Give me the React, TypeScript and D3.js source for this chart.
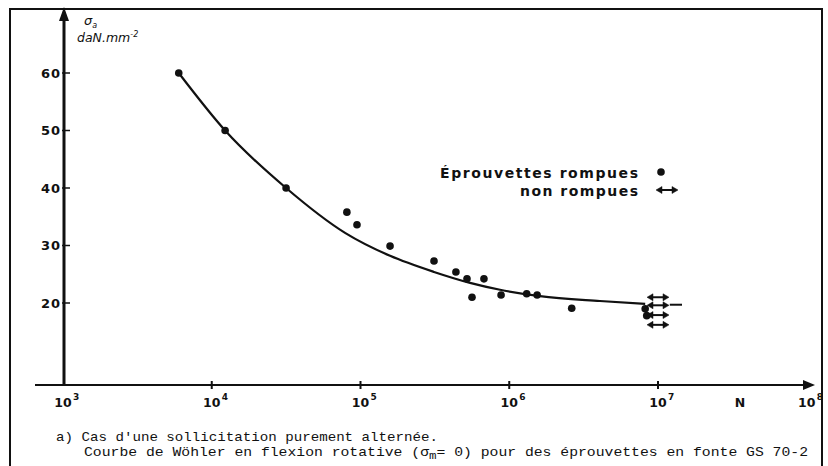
import React from 'react';
import * as d3 from 'd3';

// fitted Wöhler curve (N cycles, stress daN/mm2)
const curveN = [6000, 12300, 31600, 78700, 158000, 312000, 545000, 867000, 1610000, 4070000, 8200000];
const curveS = [60, 50, 40, 32.2, 28.2, 25.4, 23.5, 22.3, 21.2, 20.35, 19.85];

// broken specimens
const rompuesN = [6000, 12300, 31600, 81000, 94700, 158000, 312000, 438000, 520000, 676000, 562000, 881000, 1310000, 1540000, 2630000, 8200000, 8400000];
const rompuesS = [60, 50, 40, 35.8, 33.6, 29.9, 27.3, 25.4, 24.2, 24.2, 21.0, 21.4, 21.6, 21.4, 19.1, 19.0, 17.8];

// run-outs (not broken)
const nonRompuesN = [10000000, 10000000, 10000000, 10000000];
const nonRompuesS = [21.0, 19.6, 17.9, 16.2];

// dashed extension of the curve beyond 10^7
const dashN = [12000000, 14500000];
const dashS = [19.7, 19.7];

const yTicks = [20, 30, 40, 50, 60];
const xExponents = [3, 4, 5, 6, 7, 8];

const W = 828, H = 466;
const axisY = 385;
const axisX = 64;

const labelFont = '"DejaVu Sans", sans-serif';
const monoFont = '"Liberation Mono", "DejaVu Sans Mono", monospace';

const x = d3.scaleLog().domain([1e3, 1e7]).range([63, 658]);
const y = d3.scaleLinear().domain([20, 60]).range([303, 73]);

const DoubleArrow = ({ cx, cy }: { cx: number; cy: number }) => (
  <g fill="#111" stroke="#111">
    <line x1={cx - 7} y1={cy} x2={cx + 7} y2={cy} strokeWidth={2} />
    <path d={`M${cx - 11},${cy} L${cx - 5},${cy - 3.5} L${cx - 5},${cy + 3.5} Z`} strokeWidth={0.5} />
    <path d={`M${cx + 11},${cy} L${cx + 5},${cy - 3.5} L${cx + 5},${cy + 3.5} Z`} strokeWidth={0.5} />
  </g>
);

export default function App() {
  const line = d3
    .line<number>()
    .x((_, i) => x(curveN[i]))
    .y((d) => y(d))
    .curve(d3.curveMonotoneX);

  return (
    <svg width={W} height={H} style={{ position: 'absolute', left: 0, top: 0, background: '#fff' }}>
      {/* frame */}
      <path d={`M10,${H} L10,9 L822,9 L822,${H}`} fill="none" stroke="#111" strokeWidth={2} />

      {/* x axis */}
      <line x1={35} y1={axisY} x2={806} y2={axisY} stroke="#111" strokeWidth={2} />
      <path d={`M815,${axisY} L803,${axisY - 5} L803,${axisY + 5} Z`} fill="#111" />
      {xExponents.map((e) => {
        const px = x(Math.pow(10, e));
        return (
          <g key={e}>
            {e > 3 && e < 8 && <line x1={px} y1={axisY - 4} x2={px} y2={axisY + 4} stroke="#111" strokeWidth={2} />}
            <text x={px} y={axisY + 22} textAnchor="middle" fontFamily={labelFont} fontWeight="bold" fontSize={12.5} fill="#111">10</text>
            <text x={px + 10} y={axisY + 15} fontFamily={labelFont} fontWeight="bold" fontSize={9} fill="#111">{e}</text>
          </g>
        );
      })}
      <text x={740} y={axisY + 22} textAnchor="middle" fontFamily={labelFont} fontWeight="bold" fontSize={12.5} fill="#111">N</text>

      {/* y axis */}
      <line x1={axisX} y1={axisY + 1} x2={axisX} y2={18} stroke="#111" strokeWidth={3} />
      <path d={`M${axisX},7 L${axisX - 5},21 L${axisX + 5},21 Z`} fill="#111" />
      {yTicks.map((t) => (
        <g key={t}>
          <line x1={axisX - 2} y1={y(t)} x2={axisX + 6} y2={y(t)} stroke="#111" strokeWidth={1.5} />
          <text x={axisX - 3} y={y(t)} dy="0.36em" textAnchor="end" fontFamily={labelFont} fontWeight="bold" fontSize={13} letterSpacing={1} fill="#111">{t}</text>
        </g>
      ))}
      <text x={84} y={25} fontFamily={labelFont} fontStyle="italic" fontSize={13} fill="#111">
        σ<tspan fontSize={8} dy={3}>a</tspan>
      </text>
      <text x={77} y={42} fontFamily={labelFont} fontStyle="italic" fontSize={12.5} fill="#111">
        daN.mm<tspan fontSize={8} dy={-5}>-2</tspan>
      </text>

      {/* Wöhler curve */}
      <path d={line(curveS) ?? ''} fill="none" stroke="#111" strokeWidth={2.2} />
      <line x1={x(dashN[0])} y1={y(dashS[0])} x2={x(dashN[1])} y2={y(dashS[1])} stroke="#111" strokeWidth={2} />

      {/* broken specimens */}
      {rompuesN.map((n, i) => (
        <circle key={i} cx={x(n)} cy={y(rompuesS[i])} r={3.8} fill="#111" />
      ))}

      {/* run-outs */}
      {nonRompuesN.map((n, i) => (
        <DoubleArrow key={i} cx={x(n)} cy={y(nonRompuesS[i])} />
      ))}

      {/* legend */}
      <text x={638} y={178} textAnchor="end" fontFamily={labelFont} fontWeight="bold" fontSize={14} textLength={198} lengthAdjust="spacing" fill="#111">Éprouvettes rompues</text>
      <circle cx={661} cy={172} r={3.8} fill="#111" />
      <text x={638} y={196} textAnchor="end" fontFamily={labelFont} fontWeight="bold" fontSize={14} textLength={118} lengthAdjust="spacing" fill="#111">non rompues</text>
      <DoubleArrow cx={667} cy={190} />

      {/* caption */}
      <text x={56} y={441} fontFamily={monoFont} fontSize={13} textLength={382} lengthAdjust="spacingAndGlyphs" fill="#111">a) Cas d'une sollicitation purement alternée.</text>
      <text x={84} y={456} fontFamily={monoFont} fontSize={13} fill="#111" textLength={724} lengthAdjust="spacingAndGlyphs">
        Courbe de Wöhler en flexion rotative (σ<tspan fontSize={11} dy={3}>m</tspan><tspan dy={-3}>= 0) pour des éprouvettes en fonte GS 70-2</tspan>
      </text>
    </svg>
  );
}
